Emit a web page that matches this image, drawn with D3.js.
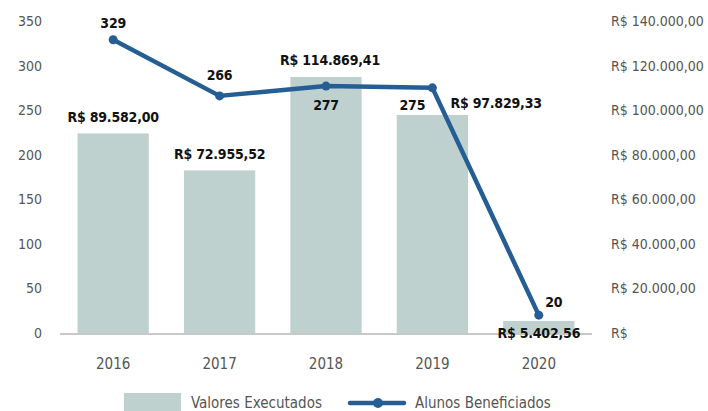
<!DOCTYPE html>
<html>
<head>
<meta charset="utf-8">
<script src="https://cdn.jsdelivr.net/npm/d3@7"></script>
<style>
  body { margin: 0; background: #fff; }
  svg { font-family: "DejaVu Sans Condensed", "DejaVu Sans", sans-serif; font-stretch: condensed; }
  .tick-label { fill: #555; font-size: 14px; }
  .year-label { fill: #555; font-size: 15px; }
  .legend-label { fill: #555; font-size: 15px; }
  .val-label { fill: #111; font-size: 14px; font-weight: bold; letter-spacing: -0.2px; }
</style>
</head>
<body>
<svg id="chart" width="708" height="411"></svg>
<script>
// chart data
var years = ['2016', '2017', '2018', '2019', '2020'];
var valores = [89582.00, 72955.52, 114869.41, 97829.33, 5402.56];
var alunos = [329, 266, 277, 275, 20];
var leftTicks = [0, 50, 100, 150, 200, 250, 300, 350];
var rightTicks = [0, 20000, 40000, 60000, 80000, 100000, 120000, 140000];

var svg = d3.select('#chart');
var margin = { top: 21, left: 60, right: 116, bottom: 78 };
var width = 708, height = 411;
var plotBottom = height - margin.bottom; // ~333

function brl(v) {
  if (v === 0) return 'R$';
  var parts = v.toFixed(2).split('.');
  var intPart = parts[0].replace(/\B(?=(\d{3})+(?!\d))/g, '.');
  return 'R$ ' + intPart + ',' + parts[1];
}

var x = d3.scaleBand()
  .domain(years)
  .range([margin.left, width - margin.right])
  .paddingInner(0.33)
  .paddingOuter(0.165);

var yL = d3.scaleLinear().domain([0, 350]).range([plotBottom, margin.top]);
var yR = d3.scaleLinear().domain([0, 140000]).range([plotBottom, margin.top]);

// bars
svg.append('g').selectAll('rect')
  .data(valores)
  .join('rect')
  .attr('x', function(d, i) { return x(years[i]); })
  .attr('y', function(d) { return yR(d); })
  .attr('width', x.bandwidth())
  .attr('height', function(d) { return plotBottom - yR(d); })
  .attr('fill', '#bfd1cf');

// baseline
svg.append('line')
  .attr('x1', margin.left).attr('x2', width - margin.right)
  .attr('y1', plotBottom + 1).attr('y2', plotBottom + 1)
  .attr('stroke', '#c8c8c8').attr('stroke-width', 2);

// left axis labels
svg.append('g').selectAll('text')
  .data(leftTicks)
  .join('text')
  .attr('class', 'tick-label')
  .attr('x', 42)
  .attr('y', function(d) { return yL(d) + 5; })
  .attr('text-anchor', 'end')
  .text(function(d) { return d; });

// right axis labels
svg.append('g').selectAll('text')
  .data(rightTicks)
  .join('text')
  .attr('class', 'tick-label')
  .attr('x', 611)
  .attr('y', function(d) { return yR(d) + 5; })
  .text(function(d) { return brl(d); });

// x labels
svg.append('g').selectAll('text')
  .data(years)
  .join('text')
  .attr('class', 'year-label')
  .attr('x', function(d) { return x(d) + x.bandwidth() / 2; })
  .attr('y', 369)
  .attr('text-anchor', 'middle')
  .text(function(d) { return d; });

// line
var cx = function(d, i) { return x(years[i]) + x.bandwidth() / 2; };
var line = d3.line()
  .x(cx)
  .y(function(d) { return yL(d); });

svg.append('path')
  .datum(alunos)
  .attr('d', line)
  .attr('fill', 'none')
  .attr('stroke', '#255e93')
  .attr('stroke-width', 4.5)
  .attr('stroke-linejoin', 'round');

svg.append('g').selectAll('circle')
  .data(alunos)
  .join('circle')
  .attr('cx', cx)
  .attr('cy', function(d) { return yL(d); })
  .attr('r', 4.5)
  .attr('fill', '#255e93');

// value labels for bars: offsets [dx, dy, anchor]
var barLabelPos = [[0, -11, 'middle'], [0, -11, 'middle'], [4, -12, 'middle'], [18, -7, 'start'], [0, 17, 'middle']];
svg.append('g').selectAll('text')
  .data(valores)
  .join('text')
  .attr('class', 'val-label')
  .attr('x', function(d, i) { return x(years[i]) + x.bandwidth() / 2 + barLabelPos[i][0]; })
  .attr('y', function(d, i) { return yR(d) + barLabelPos[i][1]; })
  .attr('text-anchor', function(d, i) { return barLabelPos[i][2]; })
  .text(function(d) { return brl(d); });

// value labels for line
var lineLabelPos = [[0, -12], [0, -16], [0, 24], [-20, 22], [15, -8]];
svg.append('g').selectAll('text')
  .data(alunos)
  .join('text')
  .attr('class', 'val-label')
  .attr('x', function(d, i) { return cx(d, i) + lineLabelPos[i][0]; })
  .attr('y', function(d, i) { return yL(d) + lineLabelPos[i][1]; })
  .attr('text-anchor', 'middle')
  .text(function(d) { return d; });

// legend
var legend = svg.append('g');
legend.append('rect')
  .attr('x', 124).attr('y', 393).attr('width', 57).attr('height', 18)
  .attr('fill', '#bfd1cf');
legend.append('text')
  .attr('class', 'legend-label')
  .attr('x', 191).attr('y', 408)
  .text('Valores Executados');
legend.append('line')
  .attr('x1', 350).attr('x2', 404).attr('y1', 403).attr('y2', 403)
  .attr('stroke', '#255e93').attr('stroke-width', 4.5)
  .attr('stroke-linecap', 'round');
legend.append('circle')
  .attr('cx', 378).attr('cy', 403).attr('r', 5)
  .attr('fill', '#255e93');
legend.append('text')
  .attr('class', 'legend-label')
  .attr('x', 415).attr('y', 408)
  .text('Alunos Beneficiados');
</script>
</body>
</html>
